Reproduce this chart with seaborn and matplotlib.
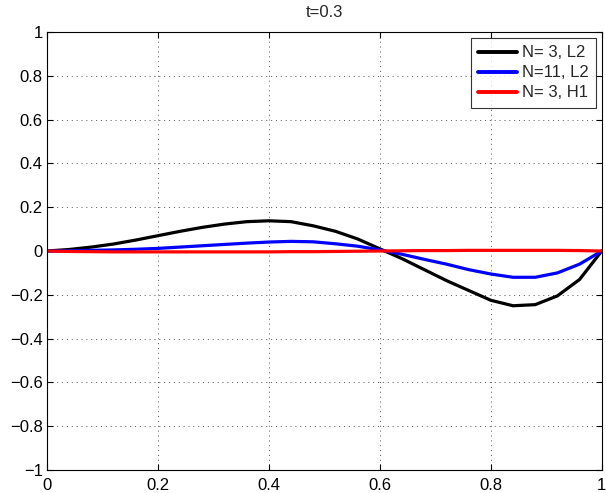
import numpy as np
import pandas as pd
import matplotlib
matplotlib.use("Agg")
import matplotlib.pyplot as plt
import seaborn as sns

# Sample points of the spatial grid
x = [0.00, 0.04, 0.08, 0.12, 0.16, 0.20, 0.24, 0.28, 0.32, 0.36, 0.40, 0.44, 0.48,
     0.52, 0.56, 0.60, 0.64, 0.68, 0.72, 0.76, 0.80, 0.84, 0.88, 0.92, 0.96, 1.00]

# Error profiles at t=0.3
err_n3_l2 = [0.000, 0.007, 0.018, 0.032, 0.050, 0.070, 0.090, 0.108, 0.123, 0.134, 0.138,
             0.134, 0.115, 0.090, 0.055, 0.010, -0.035, -0.085, -0.135, -0.180, -0.225,
             -0.250, -0.245, -0.205, -0.130, 0.000]
err_n11_l2 = [0.000, 0.001, 0.003, 0.005, 0.008, 0.012, 0.018, 0.024, 0.030, 0.036, 0.041,
              0.044, 0.042, 0.033, 0.022, 0.005, -0.015, -0.038, -0.060, -0.085, -0.105,
              -0.120, -0.120, -0.100, -0.060, 0.000]
err_n3_h1 = [0.000, -0.002, -0.003, -0.004, -0.004, -0.004, -0.004, -0.004, -0.004, -0.004,
             -0.004, -0.003, -0.003, -0.002, -0.001, 0.000, 0.001, 0.002, 0.002, 0.003,
             0.003, 0.003, 0.003, 0.003, 0.002, 0.000]

labels = ["N= 3, L2", "N=11, L2", "N= 3, H1"]
colors = ["#000000", "#0000ff", "#ff0000"]

df = pd.concat([
    pd.DataFrame({"x": x, "err": err_n3_l2, "case": labels[0]}),
    pd.DataFrame({"x": x, "err": err_n11_l2, "case": labels[1]}),
    pd.DataFrame({"x": x, "err": err_n3_h1, "case": labels[2]}),
])

sns.set_theme(style="white")
plt.rcParams["font.family"] = ["Liberation Sans", "DejaVu Sans"]

fig = plt.figure(figsize=(6.06, 4.93), dpi=100)
ax = fig.add_axes([0.0776, 0.0467, 0.9154, 0.8883])

sns.lineplot(data=df, x="x", y="err", hue="case", palette=colors,
             hue_order=labels, linewidth=2.3, ax=ax, estimator=None, sort=False)

ax.set_xlim(0, 1)
ax.set_ylim(-1, 1)
ax.set_xticks(np.arange(0, 1.01, 0.2))
ax.set_yticks(np.arange(-1, 1.01, 0.2))
ax.set_xticklabels(["0", "0.2", "0.4", "0.6", "0.8", "1"])
ax.set_yticklabels(["\u22121", "\u22120.8", "\u22120.6", "\u22120.4", "\u22120.2", "0",
                    "0.2", "0.4", "0.6", "0.8", "1"])
ax.set_xlabel("")
ax.set_ylabel("")
ax.set_title("t=0.3", fontsize=12, pad=11)

ax.grid(True, linestyle=(0, (1, 4)), color="#555555", linewidth=0.7)
ax.tick_params(direction="in", length=4, width=0.8, labelsize=12, colors="black",
               top=True, right=True, bottom=True, left=True)
ax.tick_params(axis="x", pad=6)
ax.tick_params(axis="y", pad=3)
for s in ax.spines.values():
    s.set_color("black")
    s.set_linewidth(0.8)

leg = ax.legend(loc="upper right", fontsize=12, frameon=True, fancybox=False,
                edgecolor="black", handlelength=2.3, handletextpad=0.3,
                borderpad=0.45, labelspacing=0.3, borderaxespad=0.35)
leg.get_frame().set_linewidth(0.8)
for line in leg.get_lines():
    line.set_linewidth(2.8)

fig.savefig("out.png", dpi=100)
